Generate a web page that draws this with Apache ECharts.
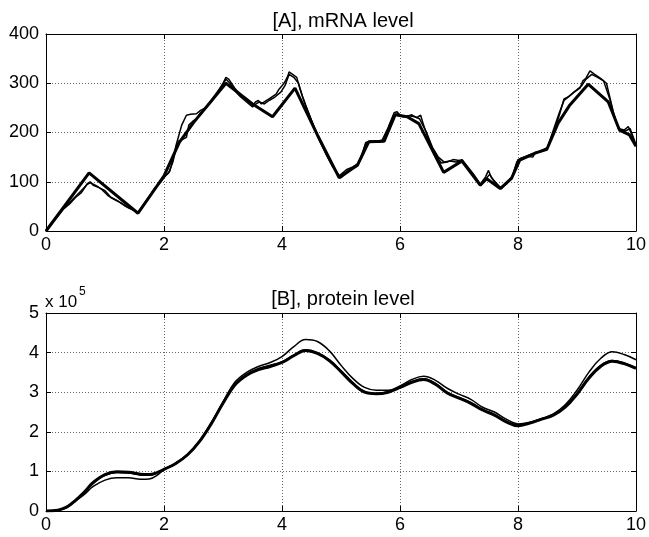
<!DOCTYPE html>
<html>
<head>
<meta charset="utf-8">
<script src="https://cdn.jsdelivr.net/npm/echarts@6/dist/echarts.min.js"></script>
<style>
  html, body { margin: 0; padding: 0; background: #fff; }
  #chart { width: 649px; height: 537px; }
</style>
</head>
<body>
<div id="chart"></div>
<script>
// Time axis ticks (shared by both panels)
const timeTicks = [0, 2, 4, 6, 8, 10];
const mrnaTicks = [0, 100, 200, 300, 400];
const proteinTicks = [0, 1, 2, 3, 4, 5]; // in units of 10^5

// [A] mRNA: deterministic trajectory [time, level]
const mrnaModel = [
  [0,0],[0.73,118],[1.56,36],[2.0,112],[2.26,180],[2.5,220],[3.05,300],[3.5,258],
  [3.84,232],[4.22,290],[4.6,195],[4.97,108],[5.28,134],[5.47,181],[5.73,182],
  [5.92,236],[6.12,232],[6.32,218],[6.74,119],[7.05,142],[7.36,93],[7.47,106],
  [7.70,86],[7.89,107],[8.03,144],[8.29,158],[8.49,166],[8.68,219],[8.88,256],
  [9.19,298],[9.53,262],[9.72,205],[9.89,195],[10,172]
];

// [A] mRNA: stochastic run 1
const mrnaRun1 = [
  [0,0],[0.1,15],[0.2,30],[0.3,45],[0.4,55],[0.5,68],[0.6,78],[0.7,96],[0.75,100],
  [0.8,93],[0.9,88],[1.0,82],[1.05,75],[1.1,68],[1.2,62],[1.3,55],[1.4,47],[1.5,42],
  [1.56,37],[1.65,52],[1.75,70],[1.85,88],[1.95,100],[2.0,110],[2.08,118],[2.15,140],
  [2.2,165],[2.25,183],[2.3,185],[2.38,190],[2.42,215],[2.48,222],[2.55,228],[2.62,240],
  [2.7,248],[2.8,262],[2.9,280],[3.0,300],[3.05,312],[3.1,308],[3.2,290],[3.3,275],
  [3.4,265],[3.5,255],[3.55,262],[3.6,265],[3.65,258],[3.7,262],[3.8,270],[3.9,278],
  [3.95,288],[4.0,295],[4.05,303],[4.1,315],[4.12,323],[4.18,318],[4.25,312],[4.3,290],
  [4.4,255],[4.5,225],[4.6,195],[4.7,170],[4.8,145],[4.9,125],[4.97,112],[5.05,120],
  [5.1,125],[5.2,130],[5.3,138],[5.35,150],[5.42,180],[5.5,183],[5.6,182],[5.7,185],
  [5.8,210],[5.9,240],[5.95,242],[6.0,235],[6.1,232],[6.2,236],[6.28,230],[6.35,235],
  [6.4,215],[6.5,180],[6.6,155],[6.7,138],[6.8,140],[6.9,145],[7.0,143],[7.05,145],
  [7.15,130],[7.25,115],[7.36,95],[7.45,110],[7.5,123],[7.55,108],[7.65,95],[7.72,86],
  [7.8,98],[7.9,110],[7.98,140],[8.05,148],[8.15,152],[8.25,150],[8.3,160],[8.4,162],
  [8.5,168],[8.6,200],[8.7,235],[8.78,268],[8.85,272],[8.95,282],[9.05,290],[9.1,305],
  [9.15,310],[9.22,325],[9.3,318],[9.4,310],[9.5,300],[9.55,275],[9.62,240],[9.7,208],
  [9.8,205],[9.87,212],[9.95,190],[10,172]
];

// [A] mRNA: stochastic run 2
const mrnaRun2 = [
  [0,0],[0.1,18],[0.2,33],[0.3,48],[0.4,58],[0.5,70],[0.6,82],[0.7,95],[0.75,98],
  [0.85,92],[0.95,84],[1.05,72],[1.15,65],[1.25,58],[1.35,50],[1.45,44],[1.56,38],
  [1.7,62],[1.8,78],[1.9,95],[2.0,108],[2.05,115],[2.1,122],[2.15,145],[2.2,172],
  [2.3,215],[2.38,235],[2.45,237],[2.55,238],[2.62,245],[2.7,250],[2.8,265],[2.9,282],
  [3.0,298],[3.05,308],[3.12,300],[3.2,285],[3.3,272],[3.4,262],[3.5,252],[3.56,258],
  [3.62,262],[3.7,258],[3.78,265],[3.88,272],[3.98,282],[4.05,295],[4.12,318],[4.2,312],
  [4.28,300],[4.35,272],[4.45,240],[4.55,208],[4.65,180],[4.75,155],[4.85,132],[4.95,115],
  [5.0,108],[5.08,118],[5.18,125],[5.28,132],[5.35,155],[5.42,178],[5.5,180],[5.65,180],
  [5.72,183],[5.82,215],[5.9,236],[5.97,238],[6.05,232],[6.15,234],[6.25,232],[6.33,228],
  [6.45,200],[6.55,170],[6.65,150],[6.75,140],[6.85,142],[6.95,140],[7.05,142],[7.15,128],
  [7.25,112],[7.36,92],[7.45,105],[7.52,115],[7.6,100],[7.7,88],[7.8,95],[7.9,108],
  [8.0,145],[8.1,150],[8.2,155],[8.3,158],[8.4,163],[8.5,170],[8.6,205],[8.7,240],
  [8.78,265],[8.88,275],[8.98,285],[9.08,295],[9.15,308],[9.25,318],[9.35,312],[9.45,305],
  [9.55,270],[9.65,225],[9.72,205],[9.82,203],[9.9,208],[10,175]
];

// [B] protein (x 10^5): deterministic trajectory
const proteinModel = [
  [0,0],[0.2,0.02],[0.35,0.1],[0.5,0.27],[0.65,0.48],[0.8,0.72],[1.0,0.92],[1.2,0.99],
  [1.4,0.98],[1.6,0.93],[1.75,0.92],[1.9,0.98],[2.0,1.05],[2.2,1.2],[2.4,1.42],[2.6,1.75],
  [2.8,2.2],[3.0,2.72],[3.2,3.18],[3.4,3.43],[3.6,3.57],[3.8,3.65],[4.0,3.75],[4.2,3.92],
  [4.4,4.05],[4.6,3.98],[4.8,3.8],[5.0,3.52],[5.2,3.22],[5.4,3.0],[5.6,2.96],[5.8,3.0],
  [6.0,3.12],[6.2,3.25],[6.4,3.32],[6.6,3.2],[6.8,2.98],[7.0,2.85],[7.2,2.72],[7.4,2.55],
  [7.6,2.42],[7.8,2.25],[8.0,2.15],[8.2,2.22],[8.4,2.32],[8.6,2.42],[8.8,2.62],[9.0,2.95],
  [9.2,3.35],[9.4,3.65],[9.6,3.78],[9.8,3.72],[10,3.6]
];

// [B] protein: stochastic run 1
const proteinRun1 = [
  [0,0],[0.2,0.02],[0.35,0.08],[0.5,0.25],[0.65,0.42],[0.8,0.62],[1.0,0.78],[1.2,0.84],
  [1.4,0.84],[1.6,0.80],[1.75,0.81],[1.9,0.92],[2.0,1.05],[2.2,1.2],[2.4,1.42],[2.6,1.75],
  [2.8,2.22],[3.0,2.75],[3.2,3.25],[3.4,3.5],[3.6,3.65],[3.8,3.75],[4.0,3.9],[4.2,4.15],
  [4.4,4.33],[4.6,4.28],[4.8,4.05],[5.0,3.68],[5.2,3.35],[5.4,3.12],[5.6,3.05],[5.8,3.05],
  [6.0,3.16],[6.2,3.32],[6.4,3.4],[6.6,3.3],[6.8,3.1],[7.0,2.95],[7.2,2.82],[7.4,2.62],
  [7.6,2.5],[7.8,2.32],[8.0,2.2],[8.2,2.24],[8.4,2.33],[8.6,2.45],[8.8,2.68],[9.0,3.05],
  [9.2,3.5],[9.4,3.85],[9.6,4.02],[9.8,3.95],[10,3.82]
];

// [B] protein: stochastic run 2
const proteinRun2 = [
  [0,0],[0.2,0.02],[0.35,0.09],[0.5,0.26],[0.65,0.46],[0.8,0.7],[1.0,0.9],[1.2,0.97],
  [1.4,0.96],[1.6,0.91],[1.75,0.9],[1.9,0.97],[2.0,1.05],[2.2,1.21],[2.4,1.43],[2.6,1.77],
  [2.8,2.22],[3.0,2.74],[3.2,3.2],[3.4,3.45],[3.6,3.6],[3.8,3.68],[4.0,3.77],[4.2,3.94],
  [4.4,4.07],[4.6,4.0],[4.8,3.82],[5.0,3.54],[5.2,3.24],[5.4,3.02],[5.6,2.97],[5.8,3.01],
  [6.0,3.13],[6.2,3.27],[6.4,3.34],[6.6,3.22],[6.8,3.0],[7.0,2.87],[7.2,2.74],[7.4,2.57],
  [7.6,2.44],[7.8,2.27],[8.0,2.17],[8.2,2.23],[8.4,2.33],[8.6,2.43],[8.8,2.64],[9.0,2.97],
  [9.2,3.38],[9.4,3.68],[9.6,3.8],[9.8,3.74],[10,3.62]
];

const FONT = '"Liberation Sans", Arial, Helvetica, sans-serif';
const LEFT = 46, RIGHT = 11;

function frameAxes(gridIndex, pos, ticks) {
  // axis with labels (bottom / left) or bare frame with inward ticks (top / right)
  const labelled = pos === 'bottom' || pos === 'left';
  return {
    type: 'value',
    gridIndex: gridIndex,
    position: pos,
    min: ticks[0],
    max: ticks[ticks.length - 1],
    interval: ticks[1] - ticks[0],
    axisLine: { show: true, onZero: false, lineStyle: { color: '#000', width: 1 } },
    axisTick: { show: true, inside: true, length: 5, lineStyle: { color: '#000' } },
    axisLabel: {
      show: labelled,
      color: '#000',
      fontFamily: FONT,
      fontSize: 18,
      margin: pos === 'left' ? 7 : 5
    },
    splitLine: {
      show: labelled,
      lineStyle: { color: '#666', type: [1, 2], width: 1 }
    }
  };
}

function line(data, width, xi, yi, smooth) {
  return {
    type: 'line',
    data: data,
    xAxisIndex: xi,
    yAxisIndex: yi,
    showSymbol: false,
    smooth: smooth,
    lineStyle: { color: '#000', width: width },
    silent: true,
    animation: false
  };
}

// panel titles and the exponent note
function label(text, x, y, size, align) {
  return {
    type: 'text',
    x: x, y: y,
    style: { text: text, font: size + 'px ' + FONT, fill: '#000', align: align, verticalAlign: 'middle' }
  };
}

const chart = echarts.init(document.getElementById('chart'), null, { renderer: 'canvas' });
chart.setOption({
  backgroundColor: '#fff',
  animation: false,
  graphic: [
    label('[A], mRNA level', 343, 21, 20, 'center'),
    label('[B], protein level', 343, 299, 20, 'center'),
    label('x 10', 45, 302, 17, 'left'),
    label('5', 79, 292, 12, 'left')
  ],
  grid: [
    { left: LEFT, right: RIGHT, top: 34, height: 197, show: false },
    { left: LEFT, right: RIGHT, top: 313, height: 198, show: false }
  ],
  xAxis: [
    frameAxes(0, 'bottom', timeTicks),
    frameAxes(0, 'top', timeTicks),
    frameAxes(1, 'bottom', timeTicks),
    frameAxes(1, 'top', timeTicks)
  ],
  yAxis: [
    frameAxes(0, 'left', mrnaTicks),
    frameAxes(0, 'right', mrnaTicks),
    frameAxes(1, 'left', proteinTicks),
    frameAxes(1, 'right', proteinTicks)
  ],
  series: [
    line(mrnaRun2, 1.5, 0, 0, false),
    line(mrnaRun1, 1.5, 0, 0, false),
    line(mrnaModel, 3, 0, 0, false),
    line(proteinRun2, 1.5, 2, 2, 0.4),
    line(proteinRun1, 1.5, 2, 2, 0.4),
    line(proteinModel, 3, 2, 2, 0.4)
  ]
});
</script>
</body>
</html>
